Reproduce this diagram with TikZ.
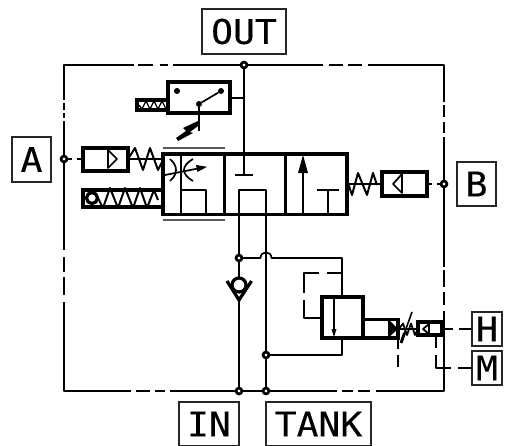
\documentclass[tikz,border=0pt]{standalone}
\usepackage{fontspec}
\newfontfamily\labfont[FakeBold=0.3,FakeStretch=1.07]{DejaVu Sans Mono}
\tikzset{
  thin line/.style={line width=1.3pt,black,line join=round},
  heavy/.style={line width=2.4pt,black,line join=miter},
  mid/.style={line width=1.5pt,black,line join=round},
  grayline/.style={line width=1.2pt,black!65},
  port/.style={draw,line width=1pt,black!85,inner sep=0pt,outer sep=0pt,font=\labfont\fontsize{25.5}{25.5}\selectfont,text=black},
  jn/.style={circle,draw=black,fill=white,line width=2pt,minimum size=4.4pt,inner sep=0pt,outer sep=0pt},
  solid dot/.style={circle,fill=black,minimum size=4.5pt,inner sep=0pt,outer sep=0pt}
}
\begin{document}
\begin{tikzpicture}[x=0.75pt,y=-0.75pt]
\useasboundingbox (0,0) rectangle (507,446);
% frame
\draw[thin line] (134,65) -- (64,65) -- (64,100) (64,103) -- (64,110) (64,113) -- (64,118) (64,121) -- (64,250)
  (64,257) -- (64,272) (64,277) -- (64,295) (64,302) -- (64,391) -- (131,391)
  (136,391) -- (150,391) (155,391) -- (165,391) (170,391) -- (337,391) (342,391) -- (353,391) (358,391) -- (370,391)
  (376,391) -- (444,391) -- (444,311) (444,305) -- (444,292) (444,287) -- (444,270) (444,267) -- (444,137)
  (444,133) -- (444,122) (444,117) -- (444,105) (444,102) -- (444,65) -- (368,65)
  (362,65) -- (348,65) (343,65) -- (329,65) (323,65) -- (173,65) (168,65) -- (160,65) (153,65) -- (138,65);
% ports
\node[port,minimum width=84*0.75pt,minimum height=45*0.75pt] (out) at (244,31.5) {OUT};
\node[port,minimum width=39*0.75pt,minimum height=45*0.75pt] (a) at (31.5,159.5) {A};
\node[port,minimum width=39*0.75pt,minimum height=44*0.75pt] (b) at (476.5,184) {B};
\node[port,minimum width=60*0.75pt,minimum height=44*0.75pt] (in) at (209,424) {IN};
\node[port,minimum width=105*0.75pt,minimum height=44*0.75pt] (tank) at (318.5,424) {TANK};
\node[port,minimum width=30*0.75pt,minimum height=34*0.75pt] (h) at (487,329) {H};
\node[port,minimum width=30*0.75pt,minimum height=34*0.75pt] (m) at (487,368) {M};
% main valve body
\draw[heavy] (163,154) rectangle (347,214.5);
\draw[heavy] (224.5,154) -- (224.5,214.5) (285.5,154) -- (285.5,214.5);
\draw[grayline] (163,148) -- (225,148) (163,220) -- (225,220);
% coordinates for junctions
\coordinate (tee) at (244,175);
\coordinate (blockTop) at (342,297);
\coordinate (blockBot) at (342,338);
\node[jn] (jout) at (244,65) {};
\node[jn] (ja) at (64,159) {};
\node[jn] (jb) at (444,184) {};
\node[jn] (jp) at (239,258) {};
\node[jn] (jt) at (266,355) {};
\node[jn] (jin) at (239,391) {};
\node[jn] (jtk) at (266,391) {};
% flow control section
\draw[thin line] (181,154) -- (181,214);
\draw[thin line] (170,159) .. controls (178,166) and (178,174) .. (170,181);
\draw[thin line] (193,159) .. controls (181,166) and (181,174) .. (193,181);
\draw[thin line] (165,175) -- (198,168.5);
\fill[black] (207,166.8) -- (196,165) -- (197.5,172) -- cycle;
\draw[thin line] (181,190) -- (206,190) -- (206,214);
% centre section and ports
\draw[thin line] (jout) -- (tee);
\draw[thin line] (235,175) -- (253,175);
\draw[thin line] (jp) -- (239,190) -- (266,190) -- (jt);
\draw[thin line] (jt) -- (jtk);
\draw[thin line] (jp) -- (239,278);
\draw[thin line] (239,300) -- (jin);
\draw[thin line] (jin) -- (jtk);
% right section
\draw[thin line] (303,214) -- (303,170);
\fill[black] (303,155) -- (298,173) -- (308,173) -- cycle;
\draw[thin line] (328,214) -- (328,190);
\draw[thin line] (317,190) -- (339,190);
% hop line
\draw[thin line] (jp) -- (260.5,258) .. controls (260.5,250.5) and (271.5,250.5) .. (271.5,258) -- (342,258) -- (blockTop);
\draw[thin line] (jt) -- (342,355) -- (blockBot);
% check valve
\draw[heavy] (239,285) circle (7);
\draw[heavy] (227,281) -- (239,300) -- (251.5,281);
% relief block
\draw[heavy] (322,297) rectangle (363,338);
\draw[thin line] (334,297) -- (334,331);
\fill[black] (334,337) -- (331.5,329) -- (336.5,329) -- cycle;
\draw[thin line] (342,273) -- (327,273) (319,273) -- (304,273) -- (304,293) (304,300) -- (304,318) -- (321,318);
\draw[heavy] (363,319.5) rectangle (398,338);
\fill[black] (388,319) -- (398,329) -- (388,338) -- cycle;
\draw[thin line] (398,338) -- (398,349) (398,355) -- (398,367);
% small spring and slash
\draw[thin line] (399,329) -- (403,323.5) -- (407,335) -- (411,323.5) -- (415,335) -- (418,329);
\draw[thin line] (399,329) -- (418,329);
\draw[line width=1.2pt,black] (412,312) -- (404.5,333);
\draw[line width=2.2pt,black] (404.5,333) -- (401,343);
% small actuator
\draw[heavy] (418,322) rectangle (442,335);
\draw[thin line] (429,322) -- (429,335);
\draw[thin line] (429,324) -- (423,329) -- (429,334);
\draw[thin line] (442,329) -- (453,329) (459,329) -- (h.west);
\draw[thin line] (436,335) -- (436,348) (436,355) -- (436,368) -- (451,368) (458,368) -- (m.west);
% left pilot A
\draw[heavy] (83,148) rectangle (128,171);
\draw[thin line] (108,150) -- (117,159) -- (108,168) -- cycle;
\draw[thin line] (ja) -- (72,159) (77,159) -- (83,159);
\draw[mid] (128,159) -- (135,148) -- (143,170) -- (150,148) -- (158,170) -- (163,160);
\draw[thin line] (128,159) -- (163,159);
% lower-left spring section
\draw[heavy] (83,190) rectangle (163,207);
\draw[heavy] (92,198) circle (5.5);
\draw[mid] (98,198) -- (103,208) -- (110,188) -- (118,208) -- (125,188) -- (133,208) -- (140,188) -- (147,208) -- (154,190) -- (158,200);
% right pilot B
\draw[heavy] (382,172) rectangle (427,196);
\draw[thin line] (402,174) -- (393,184) -- (402,193) -- cycle;
\draw[thin line] (427,184) -- (432,184) (437,184) -- (jb);
\draw[mid] (348,183) -- (352,195) -- (358,173) -- (367,195) -- (373,173) -- (377,185);
\draw[thin line] (347,184) -- (382,184);
% pressure switch
\draw[heavy] (168,82) rectangle (230,113);
\node[solid dot] (sw1) at (177,91) {};
\node[solid dot] (sw2) at (221,91) {};
\node[solid dot] (sw3) at (199,104) {};
\draw[thin line] (sw3) -- (sw2);
\draw[line width=1.7pt,black] (sw3) -- (199,131);
\draw[thin line] (230,98) -- (244,98);
\draw[heavy] (137,100) rectangle (168,110);
\draw[line width=1pt,black] (139,105) -- (142,109) -- (146,101) -- (150,109) -- (154,101) -- (158,109) -- (162,101) -- (166,109);
\fill[black] (198,121) -- (198,126) -- (190,132) -- (193,133) -- (178,141) -- (176,138) -- (186,131) -- (183,128) -- cycle;
\end{tikzpicture}
\end{document}
